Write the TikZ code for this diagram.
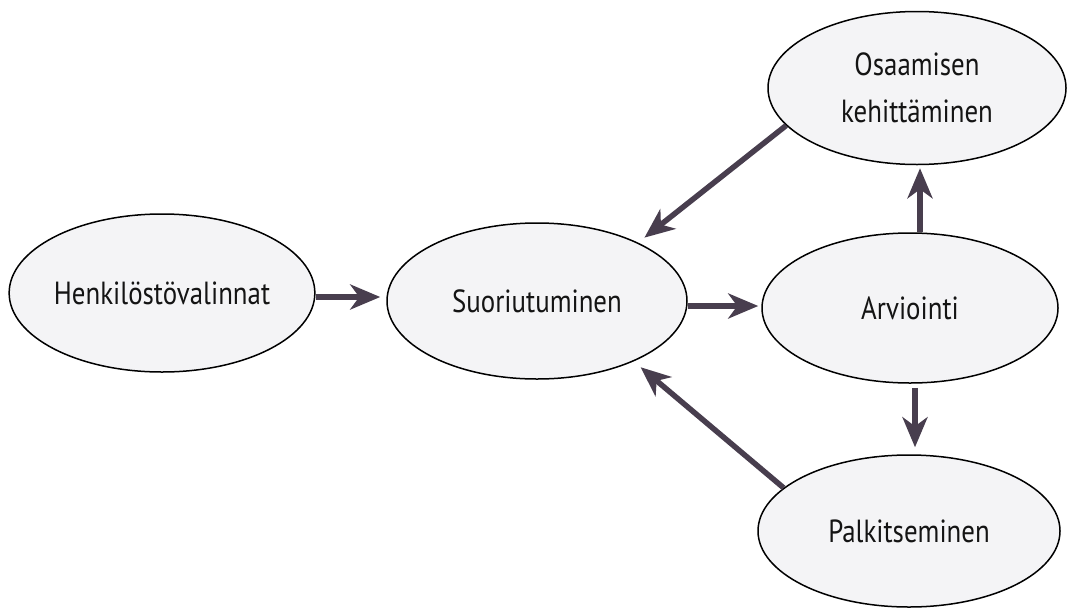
\documentclass[tikz,border=0pt]{standalone}
\usepackage{fontspec}
\setmainfont{PT Sans}[FakeStretch=0.84]
\usepackage{tikz}
\usetikzlibrary{arrows.meta,shapes.geometric}
\definecolor{arrowcol}{RGB}{72,62,78}
\definecolor{boxfill}{RGB}{244,244,246}

\begin{document}
\begin{tikzpicture}[x=1pt,y=-1pt,
        box/.style={ellipse, draw=black, line width=1.5pt, fill=boxfill, inner sep=0pt,
                text=black!92, font=\fontsize{32}{47}\selectfont, align=center},
        flow/.style={line width=5.5pt, draw=arrowcol, -{Stealth[length=30pt,width=25pt,inset=9pt]}}]
        \useasboundingbox (0,0) rectangle (1070,608);
        %%Ellipses
        \node[box, minimum width=300pt, minimum height=158pt] (hen) at (162,293) {Henkilöstövalinnat};
        \node[box, minimum width=300pt, minimum height=156pt] (suo) at (537,301) {Suoriutuminen};
        \node[box, minimum width=296pt, minimum height=150pt] (arv) at (910,308) {Arviointi};
        \node[box, minimum width=298pt, minimum height=153pt] (osa) at (917,88) {Osaamisen\\kehittäminen};
        \node[box, minimum width=302pt, minimum height=152pt] (pal) at (909,531) {Palkitseminen};
        %%Main line
        \draw[flow, shorten >=6pt] ([yshift=-4pt]hen.east) to ([yshift=-4pt]hen.east -| suo.west);
        \draw[flow, shorten >=3pt] ([yshift=-5pt]suo.east) to ([yshift=-5pt]suo.east -| arv.west);
        %%Up and down from Arviointi
        \draw[flow, shorten >=3pt] ([xshift=10pt]arv.north) to ([xshift=10pt]arv.north |- osa.south);
        \draw[flow, shorten <=4pt, shorten >=7pt] ([xshift=5pt]arv.south) to ([xshift=5pt]arv.south |- pal.north);
        %%Back to Suoriutuminen
        \draw[flow, shorten >=8pt] (osa.196) to (suo.30);
        \draw[flow, shorten >=9pt] (pal.161) to (suo.328);
\end{tikzpicture}
\end{document}
